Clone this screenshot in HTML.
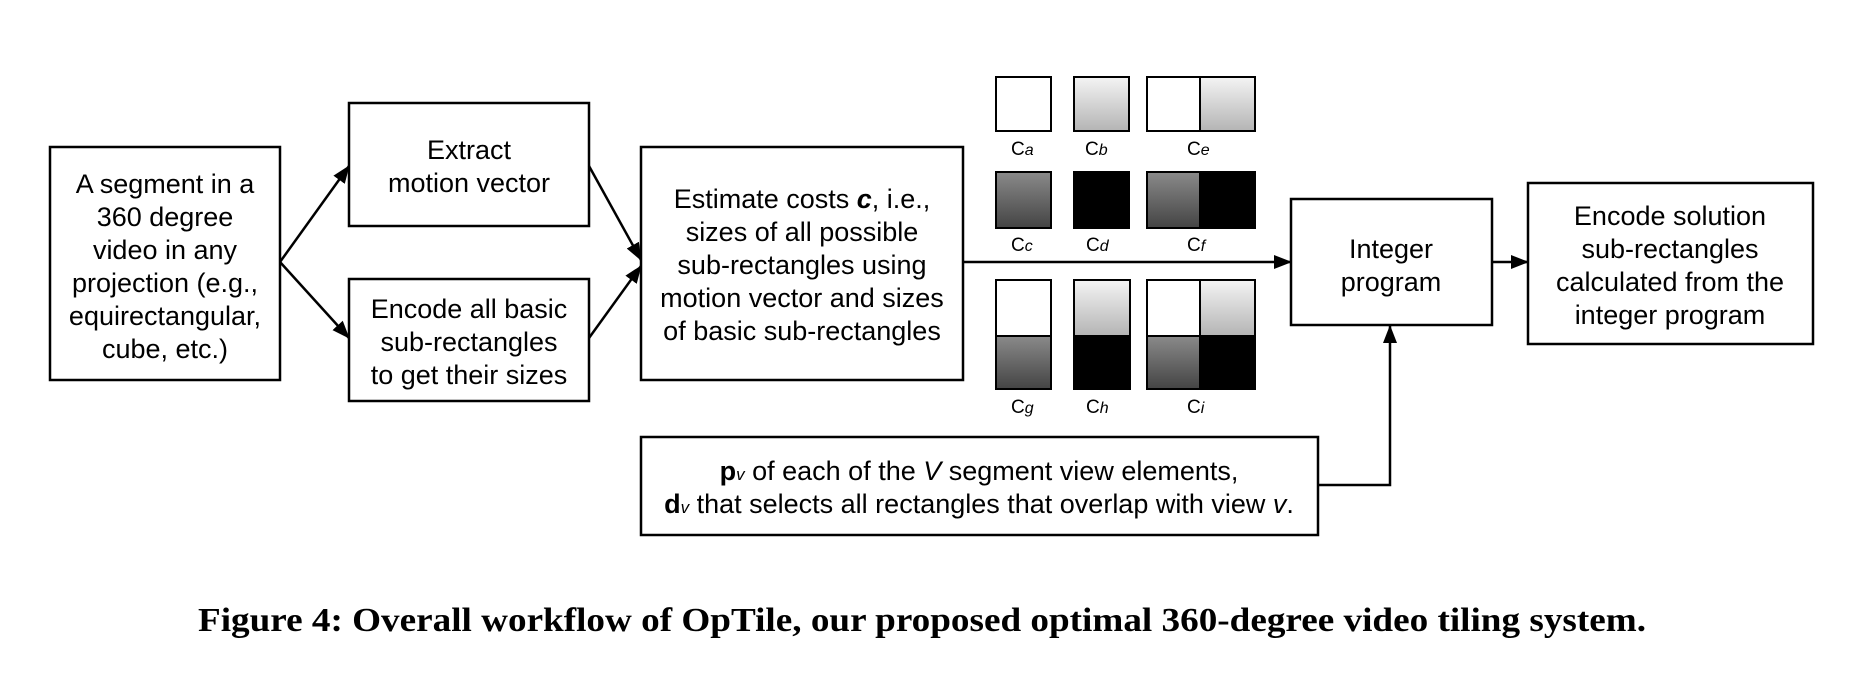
<!DOCTYPE html>
<html><head><meta charset="utf-8"><style>
html,body{margin:0;padding:0;background:#fff;}
svg{display:block;}
text{font-family:"Liberation Sans",Arial,sans-serif;font-size:27px;fill:#000;}
.cap{font-family:"Liberation Serif",serif;font-size:34px;font-weight:bold;}
.sm{font-size:19px;}
</style></head><body>
<svg width="1861" height="677" viewBox="0 0 1861 677" xmlns="http://www.w3.org/2000/svg">
<defs>
<linearGradient id="lg" x1="0" y1="0" x2="0" y2="1"><stop offset="0" stop-color="#f4f4f4"/><stop offset="1" stop-color="#b4b4b4"/></linearGradient>
<linearGradient id="dg" x1="0" y1="0" x2="0" y2="1"><stop offset="0" stop-color="#8a8a8a"/><stop offset="1" stop-color="#444"/></linearGradient>
<marker id="ah" markerWidth="18" markerHeight="14" refX="17" refY="7" orient="auto" markerUnits="userSpaceOnUse"><path d="M0,0 L18,7 L0,14 z" fill="#000"/></marker>
</defs>
<g fill="none" stroke="#000" stroke-width="2.5">
<rect x="50" y="147" width="230" height="233" fill="#fff"/>
<rect x="349" y="103" width="240" height="123" fill="#fff"/>
<rect x="349" y="279" width="240" height="122" fill="#fff"/>
<rect x="641" y="147" width="322" height="233" fill="#fff"/>
<rect x="1291" y="199" width="201" height="126" fill="#fff"/>
<rect x="1528" y="183" width="285" height="161" fill="#fff"/>
<rect x="641" y="437" width="677" height="98" fill="#fff"/>
</g>
<g stroke="#000" stroke-width="2.5" fill="none" marker-end="url(#ah)">
<line x1="280" y1="262" x2="349" y2="166"/>
<line x1="280" y1="262" x2="349" y2="338"/>
<line x1="589" y1="166" x2="641" y2="260"/>
<line x1="589" y1="338" x2="641" y2="266"/>
<line x1="963" y1="262" x2="1291" y2="262"/>
<line x1="1492" y1="262" x2="1528" y2="262"/>
<polyline points="1318,485 1390,485 1390,326"/>
</g>
<g stroke="#000" stroke-width="2">
<rect x="996" y="77" width="55" height="54" fill="#fff"/>
<rect x="1074" y="77" width="55" height="54" fill="url(#lg)"/>
<rect x="1147" y="77" width="53" height="54" fill="#fff"/>
<rect x="1200" y="77" width="55" height="54" fill="url(#lg)"/>
<rect x="996" y="172" width="55" height="56" fill="url(#dg)"/>
<rect x="1074" y="172" width="55" height="56" fill="#000"/>
<rect x="1147" y="172" width="53" height="56" fill="url(#dg)"/>
<rect x="1200" y="172" width="55" height="56" fill="#000"/>
<rect x="996" y="280" width="55" height="56" fill="#fff"/>
<rect x="996" y="336" width="55" height="53" fill="url(#dg)"/>
<rect x="1074" y="280" width="56" height="56" fill="url(#lg)"/>
<rect x="1074" y="336" width="56" height="53" fill="#000"/>
<rect x="1147" y="280" width="53" height="56" fill="#fff"/>
<rect x="1200" y="280" width="55" height="56" fill="url(#lg)"/>
<rect x="1147" y="336" width="53" height="53" fill="url(#dg)"/>
<rect x="1200" y="336" width="55" height="53" fill="#000"/>
</g>
<g>
<text x="1011" y="155" class="sm">C<tspan font-style="italic" font-size="16">a</tspan></text>
<text x="1085" y="155" class="sm">C<tspan font-style="italic" font-size="16">b</tspan></text>
<text x="1187" y="155" class="sm">C<tspan font-style="italic" font-size="16">e</tspan></text>
<text x="1011" y="251" class="sm">C<tspan font-style="italic" font-size="16">c</tspan></text>
<text x="1086" y="251" class="sm">C<tspan font-style="italic" font-size="16">d</tspan></text>
<text x="1187" y="251" class="sm">C<tspan font-style="italic" font-size="16">f</tspan></text>
<text x="1011" y="413" class="sm">C<tspan font-style="italic" font-size="16">g</tspan></text>
<text x="1086" y="413" class="sm">C<tspan font-style="italic" font-size="16">h</tspan></text>
<text x="1187" y="413" class="sm">C<tspan font-style="italic" font-size="16">i</tspan></text>
</g>
<g text-anchor="middle">
<text x="165" y="193">A segment in a</text>
<text x="165" y="226">360 degree</text>
<text x="165" y="259">video in any</text>
<text x="165" y="292">projection (e.g.,</text>
<text x="165" y="325">equirectangular,</text>
<text x="165" y="358">cube, etc.)</text>
<text x="469" y="159">Extract</text>
<text x="469" y="192">motion vector</text>
<text x="469" y="318">Encode all basic</text>
<text x="469" y="351">sub-rectangles</text>
<text x="469" y="384">to get their sizes</text>
<text x="802" y="208">Estimate costs <tspan font-weight="bold" font-style="italic">c</tspan>, i.e.,</text>
<text x="802" y="241">sizes of all possible</text>
<text x="802" y="274">sub-rectangles using</text>
<text x="802" y="307">motion vector and sizes</text>
<text x="802" y="340">of basic sub-rectangles</text>
<text x="1391" y="258">Integer</text>
<text x="1391" y="291">program</text>
<text x="1670" y="225">Encode solution</text>
<text x="1670" y="258">sub-rectangles</text>
<text x="1670" y="291">calculated from the</text>
<text x="1670" y="324">integer program</text>
<text x="979" y="480"><tspan font-weight="bold">p</tspan><tspan font-size="17" font-style="italic">v</tspan> of each of the <tspan font-style="italic">V</tspan> segment view elements,</text>
<text x="979" y="513"><tspan font-weight="bold">d</tspan><tspan font-size="17" font-style="italic">v</tspan> that selects all rectangles that overlap with view <tspan font-style="italic">v</tspan>.</text>
<text class="cap" x="922" y="631" textLength="1448" lengthAdjust="spacingAndGlyphs">Figure 4: Overall workflow of OpTile, our proposed optimal 360-degree video tiling system.</text>
</g>
</svg>
</body></html>
